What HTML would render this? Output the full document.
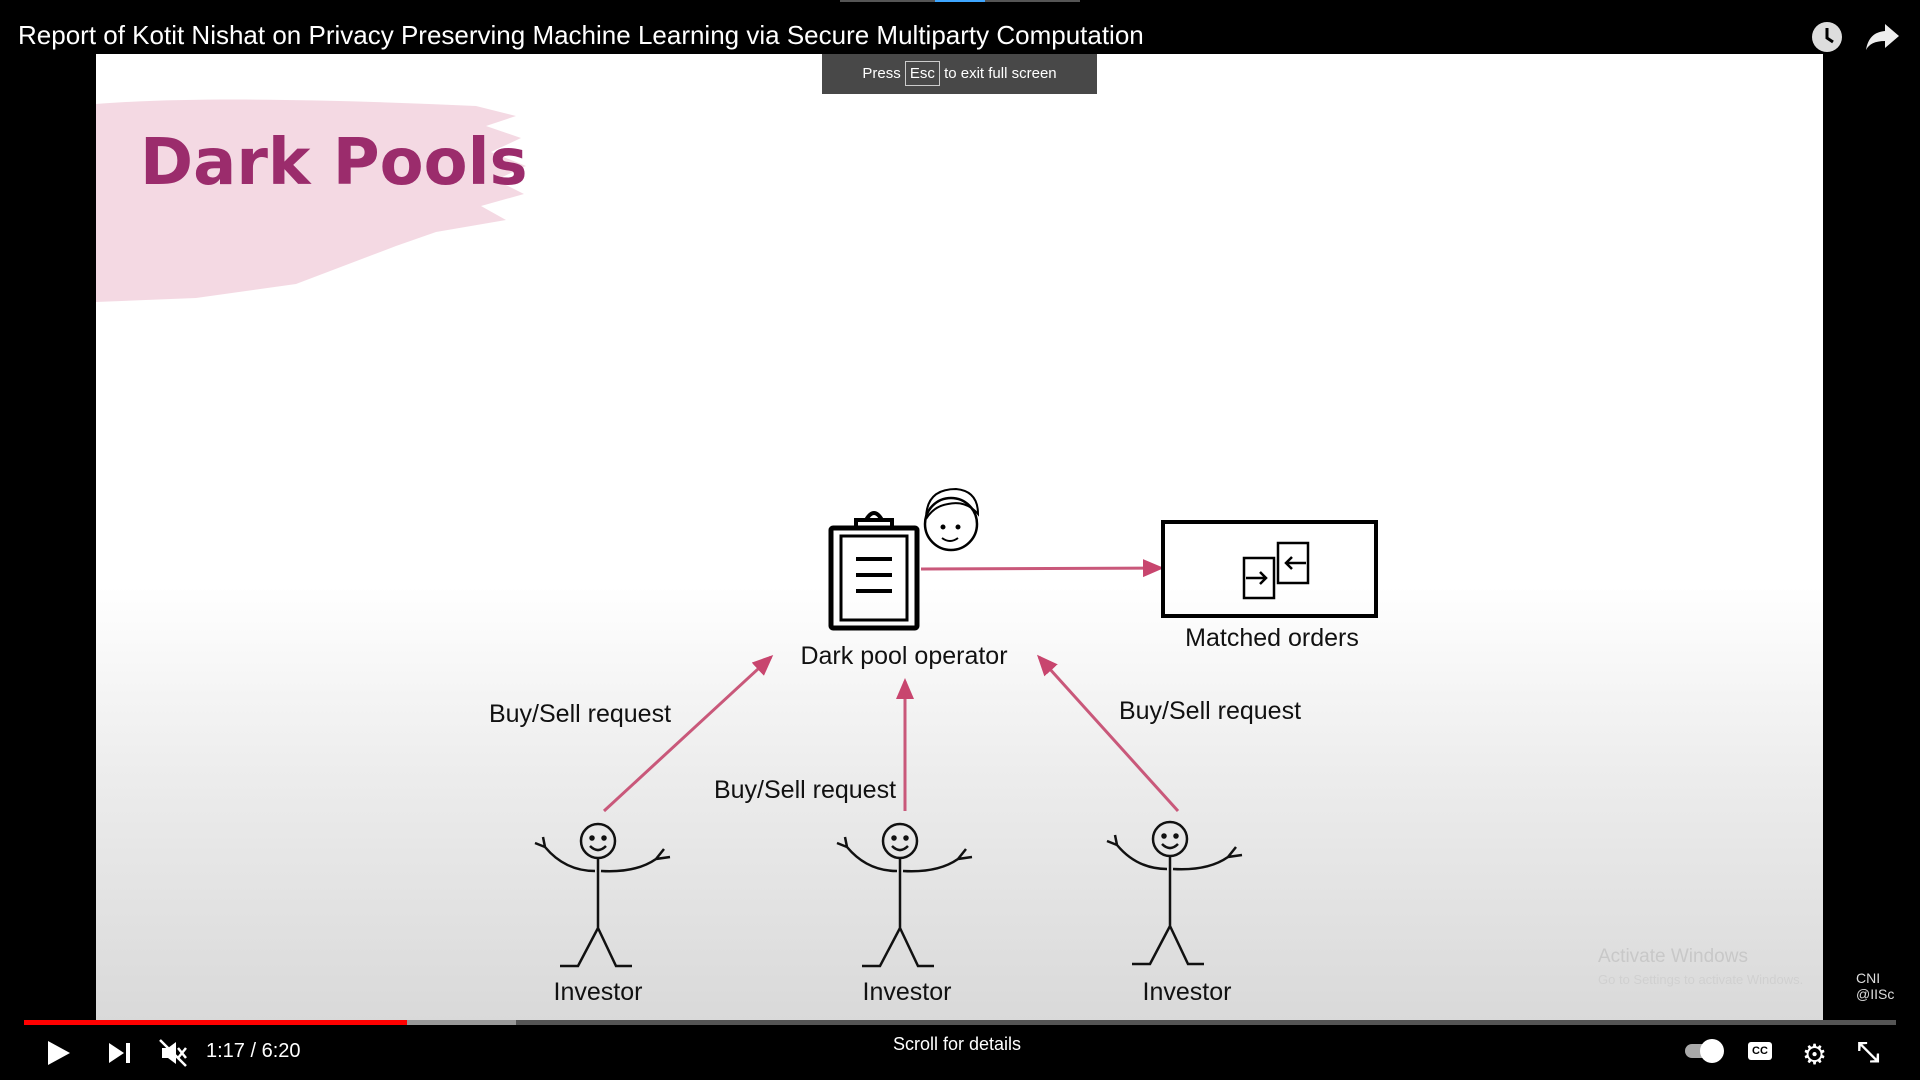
<!DOCTYPE html>
<html><head><meta charset="utf-8"><style>
html,body{margin:0;padding:0;width:1920px;height:1080px;overflow:hidden;background:#000;font-family:"Liberation Sans",sans-serif}
.abs{position:absolute}
#slide{left:96px;top:54px;width:1727px;height:968px;background:linear-gradient(#fff 0%,#fff 55%,#ececec 75%,#d9d9d9 100%)}
.t{position:absolute;color:#111;font-size:25px;white-space:nowrap;transform:translateX(-50%)}
</style></head><body>
<div class="abs" style="left:18px;top:20px;color:#fff;font-size:26px">Report of Kotit Nishat on Privacy Preserving Machine Learning via Secure Multiparty Computation</div>
<div class="abs" style="left:840px;top:0;width:240px;height:2px;background:#555"></div>
<div class="abs" style="left:935px;top:0;width:50px;height:2px;background:#3ea6ff"></div>
<svg class="abs" style="left:1810px;top:20px" width="34" height="34"><circle cx="17" cy="17" r="15" fill="#ddd"/><path d="M17 8v10l6 4" stroke="#000" stroke-width="3" fill="none"/></svg>
<svg class="abs" style="left:1865px;top:22px" width="36" height="30"><path d="M20 2l14 12-14 12v-7C10 19 4 22 1 28 3 16 9 10 20 9z" fill="#eee"/></svg>
<div id="slide" class="abs">
<svg width="1727" height="968" style="position:absolute;left:0;top:0">
<path d="M0 50 C100 42 250 46 380 52 L420 62 L390 72 L425 84 L395 98 L430 112 L400 126 L428 140 L385 152 L410 166 L340 178 L300 192 L200 230 L100 244 L0 248 Z" fill="#f3d5e0" opacity="0.9"/>
<defs><marker id="a" markerWidth="7" markerHeight="7" refX="6" refY="3.5" orient="auto"><path d="M0 0.5L7 3.5L0 6.5z" fill="#c8456e"/></marker></defs>
<g stroke="#c9587a" stroke-width="3" fill="none" marker-end="url(#a)">
<line x1="825" y1="515" x2="1065" y2="514"/>
<line x1="508" y1="757" x2="675" y2="603"/>
<line x1="809" y1="757" x2="809" y2="627"/>
<line x1="1082" y1="757" x2="943" y2="603"/>
</g>
<g stroke="#000" fill="none">
<rect x="735" y="474" width="86" height="100" stroke-width="5" rx="2"/>
<rect x="745" y="482" width="66" height="84" stroke-width="3"/>
<path d="M760 476v-10h36v10M770 466q8-14 16 0" stroke-width="4"/>
<line x1="760" y1="505" x2="796" y2="505" stroke-width="4"/>
<line x1="760" y1="521" x2="796" y2="521" stroke-width="4"/>
<line x1="760" y1="537" x2="796" y2="537" stroke-width="4"/>
<circle cx="855" cy="470" r="26" stroke-width="2.5"/>
<path d="M830 465q0-30 30-30q22 2 22 25q-12-14-30-10q-14 2-22 15" fill="none" stroke-width="2"/>
<circle cx="847" cy="473" r="2" fill="#000"/><circle cx="862" cy="473" r="2" fill="#000"/>
<path d="M846 484q8 6 16 0" stroke-width="2"/>
<rect x="1067" y="468" width="213" height="94" stroke-width="4"/>
<rect x="1148" y="504" width="30" height="40" stroke-width="2.5"/>
<rect x="1182" y="489" width="30" height="40" stroke-width="2.5"/>
<path d="M1150 524h20m-6-6l6 6-6 6M1210 509h-20m6-6l-6 6 6 6" stroke-width="2.5"/>
</g>
<g stroke="#111" stroke-width="2.5" fill="none">
<g id="inv" transform="translate(502,787)">
<circle cx="0" cy="0" r="17"/><circle cx="-6" cy="-3" r="1.5" fill="#111"/><circle cx="6" cy="-3" r="1.5" fill="#111"/><path d="M-8 5q8 8 16 0"/>
<path d="M0 17v70M0 87l-20 38h-18M0 87l18 38h16M-3 30q-30 0-50-24l-10 -4m10 4l-2 -10M3 30q35 2 55-12l14-2m-14 2l8-10"/>
</g>
<use href="#inv" transform="translate(302,0)"/>
<use href="#inv" transform="translate(572,-2)"/>
</g>
<text x="44" y="130" font-family="DejaVu Sans,sans-serif" font-weight="bold" font-size="64" fill="#9b2c6c">Dark Pools</text>
</svg>
<div class="t" style="left:808px;top:588px">Dark pool operator</div>
<div class="t" style="left:1176px;top:570px">Matched orders</div>
<div class="t" style="left:484px;top:646px">Buy/Sell request</div>
<div class="t" style="left:709px;top:722px">Buy/Sell request</div>
<div class="t" style="left:1114px;top:643px">Buy/Sell request</div>
<div class="t" style="left:502px;top:924px">Investor</div>
<div class="t" style="left:811px;top:924px">Investor</div>
<div class="t" style="left:1091px;top:924px">Investor</div>
<div class="abs" style="left:1502px;top:892px;color:#c8c8c8;font-size:19px">Activate Windows</div>
<div class="abs" style="left:1502px;top:918px;color:#d0d0d0;font-size:13px">Go to Settings to activate Windows.</div>
</div>
<div class="abs" style="left:1823px;top:54px;width:97px;height:968px;background:#000"></div>
<div class="abs" style="left:1856px;top:970px;color:#ddd;font-size:14px;line-height:16px">CNI<br>@IISc</div>
<div class="abs" style="left:822px;top:54px;width:275px;height:40px;background:rgba(40,40,40,.85);color:#fff;font-size:15px;line-height:40px;text-align:center">Press <span style="border:1px solid #ccc;padding:3px 4px">Esc</span> to exit full screen</div>
<div class="abs" style="left:24px;top:1020px;width:1872px;height:5px;background:#555"></div>
<div class="abs" style="left:24px;top:1020px;width:492px;height:5px;background:#999"></div>
<div class="abs" style="left:24px;top:1020px;width:383px;height:5px;background:#f00"></div>
<svg class="abs" style="left:44px;top:1038px" width="30" height="30"><path d="M4 3l22 12-22 12z" fill="#fff"/></svg>
<svg class="abs" style="left:106px;top:1040px" width="26" height="26"><path d="M3 3l15 10-15 10zM20 3h4v20h-4z" fill="#fff"/></svg>
<svg class="abs" style="left:158px;top:1038px" width="30" height="30"><path d="M4 10h6l8-6v22l-8-6h-6z" fill="#fff"/><path d="M2 2l26 26M20 10l8 10M28 10l-8 10" stroke="#fff" stroke-width="2.5"/></svg>
<div class="abs" style="left:206px;top:1040px;color:#fff;font-size:20px">1:17 / 6:20</div>
<div class="abs" style="left:893px;top:1034px;color:#fff;font-size:18px">Scroll for details</div>
<div class="abs" style="left:1685px;top:1044px;width:36px;height:14px;border-radius:7px;background:#aaa"></div>
<div class="abs" style="left:1700px;top:1039px;width:24px;height:24px;border-radius:12px;background:#fff"></div>
<div class="abs" style="left:1748px;top:1042px;width:24px;height:18px;border-radius:3px;background:#fff;color:#000;font-size:11px;font-weight:bold;text-align:center;line-height:18px">CC</div>
<div class="abs" style="left:1802px;top:1038px;color:#fff;font-size:28px">⚙</div>
<div class="abs" style="left:1857px;top:1036px;color:#fff;font-size:28px;font-weight:bold">⤡</div>
</body></html>
